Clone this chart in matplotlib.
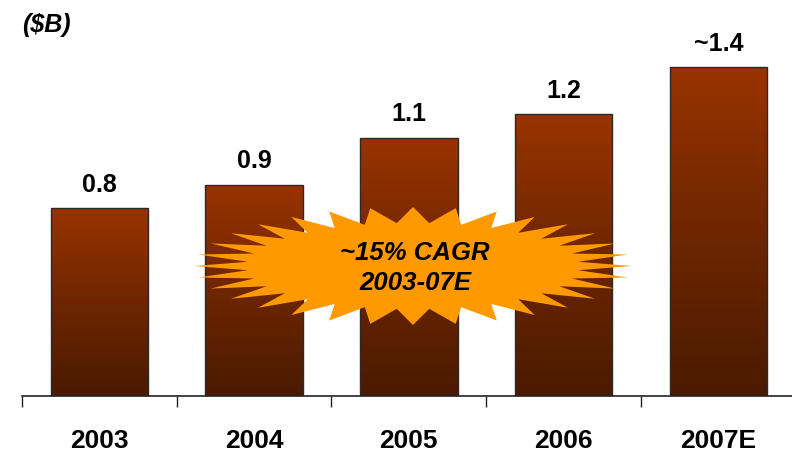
import numpy as np
import matplotlib
matplotlib.use('Agg')
import matplotlib.pyplot as plt
from matplotlib.colors import LinearSegmentedColormap
from matplotlib.patches import Polygon

# data
years = ['2003', '2004', '2005', '2006', '2007E']
revenue = [0.8, 0.9, 1.1, 1.2, 1.4]
value_labels = ['0.8', '0.9', '1.1', '1.2', '~1.4']
unit_label = '($B)'
burst_text = '~15% CAGR\n2003-07E'

plt.rcParams['font.family'] = ['Liberation Sans', 'DejaVu Sans']

fig = plt.figure(figsize=(7.92, 4.59), dpi=100)
ax = fig.add_axes([22 / 792, 63 / 459, 1 - 22 / 792, 1 - 63 / 459])

x = np.arange(len(years))
bars = ax.bar(x, revenue, width=0.63, color='none', edgecolor='#2a2a2a', linewidth=1.0, zorder=3)

# vertical gradient inside each bar
cmap = LinearSegmentedColormap.from_list('brown', ['#4a1a00', '#6e2600', '#993300'])
grad = np.linspace(0, 1, 256).reshape(-1, 1)
for b in bars:
    bx, by = b.get_x(), b.get_y()
    w, h = b.get_width(), b.get_height()
    im = ax.imshow(grad, cmap=cmap, origin='lower', aspect='auto',
                   extent=(bx, bx + w, by, by + h), zorder=2)
    im.set_clip_path(b)

for xi, v, lab in zip(x, revenue, value_labels):
    ax.annotate(lab, (xi, v), xytext=(0, 8), textcoords='offset points',
                ha='center', va='bottom', fontsize=18, fontweight='bold')

ax.set_xlim(-0.5, 4.476)
ax.set_ylim(0, 396 / 235)
ax.set_xticks(x)
ax.set_xticklabels(years, fontsize=19, fontweight='bold')
ax.set_xticks(np.arange(-0.5, 4.0, 1.0), minor=True)
ax.tick_params(axis='x', which='major', length=0, pad=24)
ax.tick_params(axis='x', which='minor', length=8, width=1, color='#222222', direction='out')
ax.set_yticks([])
for s in ['top', 'right', 'left']:
    ax.spines[s].set_visible(False)
ax.spines['bottom'].set_color('#222222')
ax.spines['bottom'].set_linewidth(1.2)

fig.text(22 / 792, 1 - 13 / 459, unit_label, ha='left', va='top',
         fontsize=18, fontweight='bold', fontstyle='italic')

# starburst overlay in pixel space
ov = fig.add_axes([0, 0, 1, 1], facecolor='none')
ov.set_xlim(0, 792)
ov.set_ylim(459, 0)
ov.axis('off')
cx, cy = 413, 266
n = 32
t = np.linspace(0, 2 * np.pi, 2 * n, endpoint=False)
ra = np.where(np.arange(2 * n) % 2 == 0, 219, 166)
rb = np.where(np.arange(2 * n) % 2 == 0, 59, 43)
pts = np.column_stack([cx + ra * np.cos(t), cy + rb * np.sin(t)])
ov.add_patch(Polygon(pts, closed=True, facecolor='#ff9900', edgecolor='none', zorder=5))
ov.text(415, 268, burst_text, ha='center', va='center', fontsize=18.5,
        fontweight='bold', fontstyle='italic', linespacing=1.35, zorder=6)

fig.savefig('out.png', dpi=100)
